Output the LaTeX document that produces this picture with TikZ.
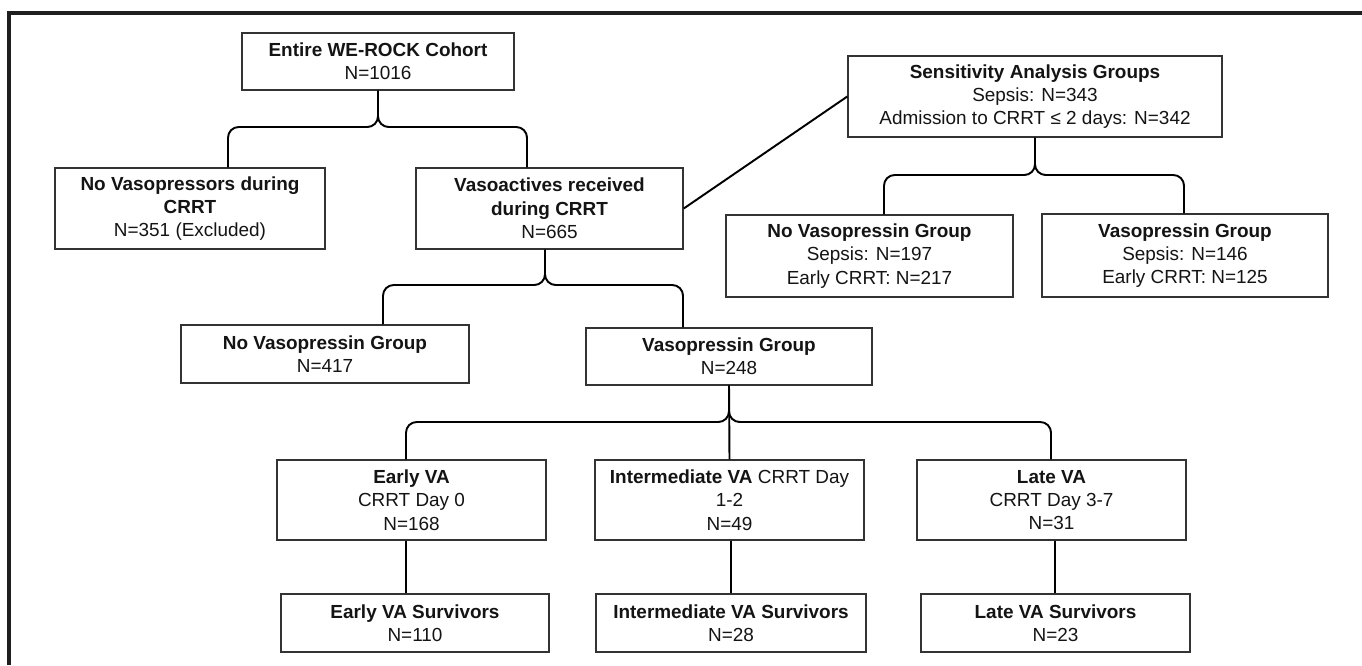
\documentclass[tikz,border=0pt]{standalone}
\usepackage{fontspec}
\setmainfont{Liberation Sans}
\usetikzlibrary{calc}
\definecolor{boxline}{HTML}{333333}
\definecolor{txt}{HTML}{141414}
\tikzset{
  box/.style={draw=boxline, line width=1.1pt, fill=white, align=center, inner sep=0pt,
    text=txt, font=\fontsize{14.2pt}{17.5pt}\selectfont},
  conn/.style={draw=black, line width=1.45pt},
  brace/.style={conn, rounded corners=8pt},
  frameline/.style={draw=black!88, line width=2.3pt}
}
\begin{document}
\begin{tikzpicture}[x=0.75pt,y=-0.75pt]
\useasboundingbox (0,0) rectangle (1362,665);
% outer frame (top and left visible)
\draw[frameline] (9,665) -- (9,13) -- (1362,13);

% nodes
\node[box, minimum width=204pt, minimum height=42.75pt] (entire) at (378,61.5)
  {\textbf{Entire WE-ROCK Cohort}\\N=1016};
\node[box, minimum width=202.5pt, minimum height=60.75pt] (novp) at (190,208.5)
  {\textbf{No Vasopressors during}\\\textbf{CRRT}\\N=351 (Excluded)};
\node[box, minimum width=200.25pt, minimum height=60.75pt] (vasoact) at (549.5,208.5)
  {\textbf{Vasoactives received}\\\textbf{during CRRT}\\N=665};
\node[box, minimum width=280.5pt, minimum height=60.75pt] (sens) at (1035,96.5)
  {\textbf{Sensitivity Analysis Groups}\\Sepsis: N=343\\Admission to CRRT ≤ 2 days: N=342};
\node[box, minimum width=215.25pt, minimum height=61.5pt] (snovaso) at (869.5,256)
  {\textbf{No Vasopressin Group}\\Sepsis: N=197\\Early CRRT: N=217};
\node[box, minimum width=214.5pt, minimum height=62.25pt] (svaso) at (1185,255.5)
  {\textbf{Vasopressin Group}\\Sepsis: N=146\\Early CRRT: N=125};
\node[box, minimum width=216pt, minimum height=43.5pt] (novaso) at (325,354)
  {\textbf{No Vasopressin Group}\\N=417};
\node[box, minimum width=214.5pt, minimum height=42.75pt] (vaso) at (729,356.5)
  {\textbf{Vasopressin Group}\\N=248};
\node[box, minimum width=201.75pt, minimum height=60pt] (early) at (411.5,500)
  {\textbf{Early VA}\\CRRT Day 0\\N=168};
\node[box, minimum width=201.75pt, minimum height=60pt] (inter) at (729.5,500)
  {\textbf{Intermediate VA} CRRT Day\\1-2\\N=49};
\node[box, minimum width=201.75pt, minimum height=60pt] (late) at (1051.5,500)
  {\textbf{Late VA}\\CRRT Day 3-7\\N=31};
\node[box, minimum width=201pt, minimum height=43.5pt] (earlys) at (415,623)
  {\textbf{Early VA Survivors}\\N=110};
\node[box, minimum width=202.5pt, minimum height=43.5pt] (inters) at (731,623)
  {\textbf{Intermediate VA Survivors}\\N=28};
\node[box, minimum width=201.75pt, minimum height=43.5pt] (lates) at (1055.5,623)
  {\textbf{Late VA Survivors}\\N=23};

% brace coordinates
\coordinate (b1c) at (entire.south |- 0,127);
\coordinate (b1l) at (novp.north -| 228,0);
\coordinate (b1r) at (vasoact.north -| 527,0);
\coordinate (b2c) at (sens.south |- 0,175);
\coordinate (b2l) at (snovaso.north -| 884,0);
\coordinate (b2r) at (svaso.north -| 1184,0);
\coordinate (b3t) at (vasoact.south -| 545,0);
\coordinate (b3c) at (545,285);
\coordinate (b3l) at (novaso.north -| 383,0);
\coordinate (b3r) at (vaso.north -| 683,0);
\coordinate (b4c) at (vaso.south |- 0,422);
\coordinate (b4l) at (early.north -| 406,0);
\coordinate (b4r) at (late.north -| 1051,0);

% braces
\draw[brace] (b1l) |- (b1c) -- (entire.south);
\draw[brace] (b1r) |- (b1c) -- (entire.south);
\draw[brace] (b2l) |- (b2c) -- (sens.south);
\draw[brace] (b2r) |- (b2c) -- (sens.south);
\draw[brace] (b3l) |- (b3c) -- (b3t);
\draw[brace] (b3r) |- (b3c) -- (b3t);
\draw[brace] (b4l) |- (b4c) -- (vaso.south);
\draw[brace] (b4r) |- (b4c) -- (vaso.south);
\draw[conn] (vaso.south) -- (inter.north);

% other connectors
\draw[conn] (vasoact.east) -- (sens.west);
\draw[conn] (early.south -| 406,0) -- (earlys.north -| 406,0);
\draw[conn] (inter.south -| 731,0) -- (inters.north -| 731,0);
\draw[conn] (late.south -| 1055,0) -- (lates.north -| 1055,0);
\end{tikzpicture}
\end{document}
